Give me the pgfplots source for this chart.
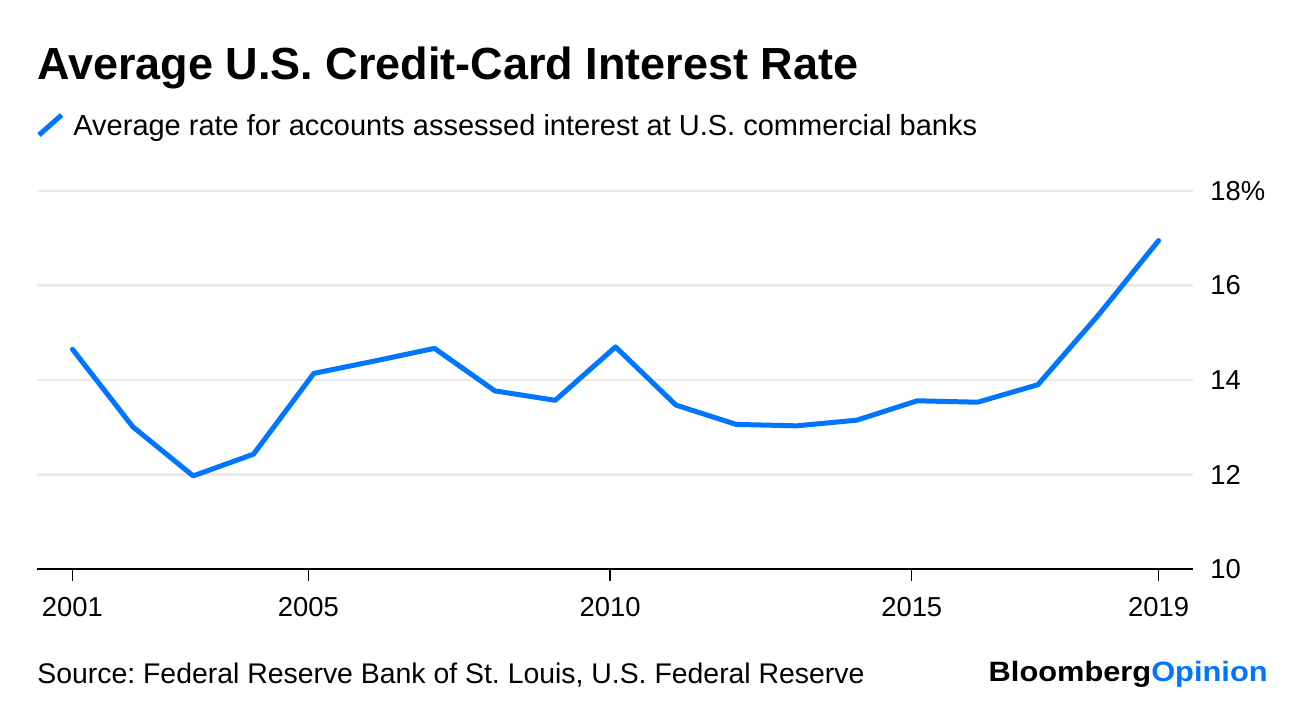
\documentclass[border=0pt]{standalone}
\usepackage{pgfplots}
\pgfplotsset{compat=1.18}
\usepackage{fontspec}
\setmainfont{Liberation Sans}
\definecolor{bbblue}{RGB}{0,117,255}
\definecolor{gridgray}{RGB}{234,234,234}

\begin{document}
\frenchspacing
\begin{tikzpicture}
\path[use as bounding box] (0pt,0pt) rectangle (648pt,353pt);
% title and legend
\node[anchor=base west, inner sep=0pt] at (18.5pt,313pt)
  {\fontsize{22.5}{26}\selectfont\bfseries Average U.S. Credit-Card Interest Rate};
\draw[bbblue, line width=2.5pt] (19.5pt,285.5pt) -- (30.8pt,295.5pt);
\node[anchor=base west, inner sep=0pt] at (36.5pt,285pt)
  {\fontsize{14.5}{16}\selectfont Average rate for accounts assessed interest at U.S. commercial banks};
% footer
\node[anchor=base west, inner sep=0pt] at (18.5pt,11pt)
  {\fontsize{14.2}{16}\selectfont Source: Federal Reserve Bank of St. Louis, U.S. Federal Reserve};
\node[anchor=base east, inner sep=0pt] at (634pt,12pt)
  {\scalebox{1.1}[1]{\fontsize{14}{16}\selectfont\bfseries Bloomberg\textcolor{bbblue}{Opinion}}};

\begin{axis}[
    at={(18.25pt,68.5pt)}, anchor=south west,
    scale only axis,
    width=578.25pt, height=189pt,
    xmin=2000.494, xmax=2019.661,
    ymin=10, ymax=18,
    axis x line*=bottom,
    axis y line*=right,
    x axis line style={-, black, line width=1pt},
    y axis line style={draw=none},
    xtick={2001.09,2005,2010,2015,2019.09},
    xticklabels={2001,2005,2010,2015,2019},
    ytick={10,12,14,16,18},
    yticklabels={10,12,14,16,18\%},
    tick align=outside,
    major tick length=6pt,
    x tick style={black, line width=0.6pt},
    y tick style={draw=none},
    ymajorgrids,
    grid style={gridgray, line width=1.35pt},
    tick label style={font=\fontsize{13.7}{15}\selectfont},
    /pgf/number format/assume math mode=true,
    xticklabel style={anchor=north, inner sep=0pt, yshift=-8pt},
    yticklabel style={anchor=west, inner sep=0pt, xshift=2.5pt},
    clip=false,
]
\addplot[bbblue, line width=2.5pt, line join=round, line cap=round] coordinates {
    (2001.09, 14.65)
    (2002.09, 13.01)
    (2003.09, 11.97)
    (2004.09, 12.43)
    (2005.09, 14.14)
    (2006.09, 14.40)
    (2007.09, 14.67)
    (2008.09, 13.77)
    (2009.09, 13.57)
    (2010.09, 14.70)
    (2011.09, 13.47)
    (2012.09, 13.06)
    (2013.09, 13.03)
    (2014.09, 13.15)
    (2015.09, 13.56)
    (2016.09, 13.53)
    (2017.09, 13.90)
    (2018.09, 15.37)
    (2019.09, 16.95)
};
\end{axis}
\end{tikzpicture}
\end{document}
